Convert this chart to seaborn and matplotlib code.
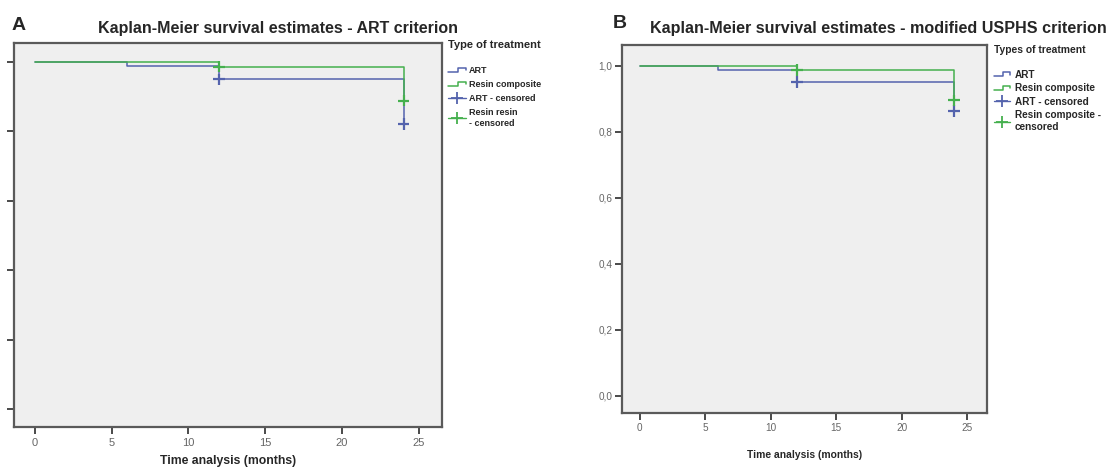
import pandas as pd
import seaborn as sns
import matplotlib.pyplot as plt
from matplotlib.lines import Line2D
from matplotlib.legend_handler import HandlerBase

# Kaplan-Meier step values
art_time = [0, 6, 12, 24]
resin_time = [0, 12, 24]
art_surv_a = [1.0, 0.99, 0.95, 0.822]
resin_surv_a = [1.0, 0.987, 0.889]
art_surv_b = [1.0, 0.987, 0.95, 0.863]
resin_surv_b = [1.0, 0.988, 0.895]

# censored observations
cens_time = [12, 24]
art_cens_a = [0.95, 0.822]
resin_cens_a = [0.987, 0.889]
art_cens_b = [0.95, 0.863]
resin_cens_b = [0.988, 0.895]

x_ticks = [0, 5, 10, 15, 20, 25]
y_ticks = [0.0, 0.2, 0.4, 0.6, 0.8, 1.0]
y_tick_labels = ['0,0', '0,2', '0,4', '0,6', '0,8', '1,0']

BLUE = '#5463ad'
GREEN = '#45b04e'
palette = {'ART': BLUE, 'Resin composite': GREEN}


def make_frames(art_s, resin_s, art_c, resin_c):
    steps = pd.DataFrame({
        'time': art_time + resin_time,
        'survival': art_s + resin_s,
        'group': ['ART'] * len(art_time) + ['Resin composite'] * len(resin_time),
    })
    cens = pd.DataFrame({
        'time': cens_time + cens_time,
        'survival': art_c + resin_c,
        'group': ['ART'] * len(cens_time) + ['Resin composite'] * len(cens_time),
    })
    return steps, cens


class StepHandler(HandlerBase):
    # little step icon like the one SPSS draws in its legend
    def create_artists(self, legend, orig_handle, xdescent, ydescent,
                       width, height, fontsize, trans):
        x0, y0 = -xdescent, -ydescent
        xs = [x0, x0 + 0.55 * width, x0 + 0.55 * width, x0 + width, x0 + width]
        ys = [y0 + 0.2 * height, y0 + 0.2 * height, y0 + 0.8 * height,
              y0 + 0.8 * height, y0 + 0.45 * height]
        line = Line2D(xs, ys, color=orig_handle.get_color(), lw=1.1, transform=trans)
        return [line]


sns.set_style('white', rc={'axes.facecolor': '#efefef', 'axes.edgecolor': '#5a5a5a'})
plt.rcParams['font.family'] = ['Liberation Sans', 'DejaVu Sans']

fig = plt.figure(figsize=(11.09, 4.68), dpi=100)
ax_a = fig.add_axes([14 / 1109, 1 - 427 / 468, 428 / 1109, 384 / 468])
ax_b = fig.add_axes([622 / 1109, 1 - 413 / 468, 365 / 1109, 368 / 468])

panels = [
    (ax_a, make_frames(art_surv_a, resin_surv_a, art_cens_a, resin_cens_a),
     'Type of treatment', 'Resin resin\n- censored'),
    (ax_b, make_frames(art_surv_b, resin_surv_b, art_cens_b, resin_cens_b),
     'Types of treatment', 'Resin composite -\ncensored'),
]

for ax, (steps, cens), leg_title, last_label in panels:
    sns.lineplot(data=steps, x='time', y='survival', hue='group', palette=palette,
                 drawstyle='steps-post', estimator=None, linewidth=1.1,
                 legend=False, ax=ax)
    sns.scatterplot(data=cens, x='time', y='survival', hue='group', palette=palette,
                    marker='+', s=70, linewidth=1.6, legend=False, ax=ax, zorder=3)
    ax.set_xlim(-1.35, 26.5)
    ax.set_xticks(x_ticks)
    ax.set_yticks(y_ticks)
    for s in ax.spines.values():
        s.set_linewidth(1.6)
    ax.tick_params(axis='both', direction='out', length=5, width=1.4,
                   color='#4a4a4a', labelcolor='#666666', bottom=True, left=True)
    ax.set_ylabel('')

    handles = [Line2D([], [], color=BLUE), Line2D([], [], color=GREEN),
               Line2D([], [], color=BLUE, marker='+', markersize=8, mew=1.3, lw=1.0),
               Line2D([], [], color=GREEN, marker='+', markersize=8, mew=1.3, lw=1.0)]
    labels = ['ART', 'Resin composite', 'ART - censored', last_label]
    handler_map = {handles[0]: StepHandler(), handles[1]: StepHandler()}
    if ax is ax_a:
        leg = ax.legend(handles, labels, handler_map=handler_map, title=leg_title + '\n',
                        loc='upper left', bbox_to_anchor=(1.0, 1.025), frameon=False,
                        fontsize=6.5, title_fontsize=8, alignment='left',
                        handlelength=2.0, handletextpad=0.3, labelspacing=0.55,
                        borderaxespad=0.3)
    else:
        leg = ax.legend(handles, labels, handler_map=handler_map, title=leg_title + '\n',
                        loc='upper left', bbox_to_anchor=(1.0, 1.02), frameon=False,
                        fontsize=7.2, title_fontsize=7.4, alignment='left',
                        handlelength=1.6, handletextpad=0.5, labelspacing=0.35,
                        borderaxespad=0.3)
    for t in leg.get_texts():
        t.set_fontweight('bold')
    leg.get_title().set_fontweight('bold')

# panel A: y labels are cut off in the source image
ax_a.set_ylim(-0.052, 1.055)
ax_a.set_yticklabels([])
ax_a.tick_params(axis='x', labelsize=8, pad=3)
ax_a.set_xlabel('Time analysis (months)', fontsize=8.8, fontweight='bold')
ax_a.xaxis.set_label_coords(0.5, -0.072)

ax_b.set_ylim(-0.052, 1.063)
ax_b.set_yticklabels(y_tick_labels)
ax_b.tick_params(axis='both', labelsize=7.2, pad=2)
ax_b.set_xlabel('Time analysis (months)', fontsize=7.4, fontweight='bold')
ax_b.xaxis.set_label_coords(0.5, -0.1)

fig.text(12 / 1109, 1 - 25 / 468, 'A', fontsize=14, fontweight='bold', va='center', ha='left')
fig.text(278 / 1109, 1 - 29 / 468, 'Kaplan-Meier survival estimates - ART criterion',
         fontsize=11.5, fontweight='bold', va='center', ha='center')
fig.text(613 / 1109, 1 - 23 / 468, 'B', fontsize=14, fontweight='bold', va='center', ha='left')
fig.text(878 / 1109, 1 - 29 / 468, 'Kaplan-Meier survival estimates - modified USPHS criterion',
         fontsize=11.6, fontweight='bold', va='center', ha='center')

fig.savefig('out.png', dpi=100, facecolor='white')
